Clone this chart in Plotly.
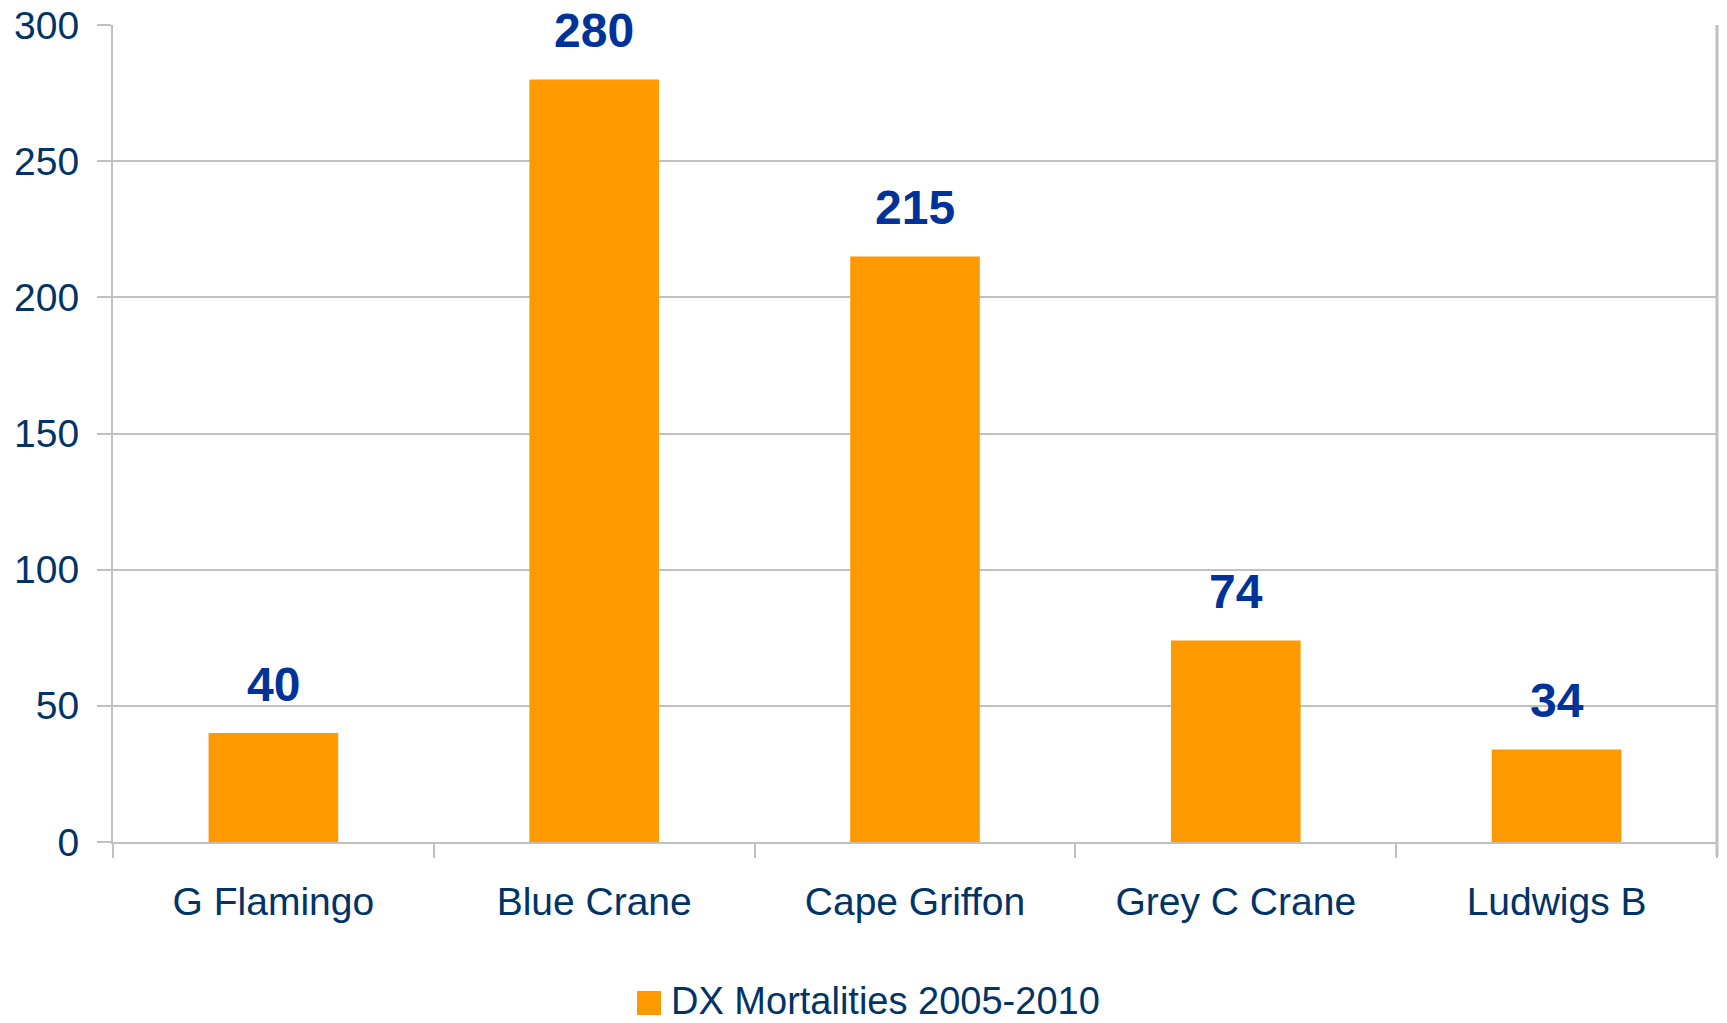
import plotly.graph_objects as go

categories = ["G Flamingo", "Blue Crane", "Cape Griffon", "Grey C Crane", "Ludwigs B"]
mortalities = [40, 280, 215, 74, 34]
series_name = "DX Mortalities 2005-2010"
y_ticks = [0, 50, 100, 150, 200, 250, 300]

# page body has an 8px default margin on every side; keep the figure inside
# the window so no scrollbars appear (screen = figure + OFF)
OFF = 8
W, H = 1727 - 2 * OFF, 1023 - 2 * OFF
ML, MT = 113 - OFF, 25 - OFF
MR = 2
MB = H - (842 - OFF)
PW = W - ML - MR
PH = H - MT - MB

AXIS_TEXT = "#003366"
LABEL_TEXT = "#003399"
ORANGE = "#FF9900"
GRID = "#C0C0C0"
FONT = "Arial, Liberation Sans, sans-serif"

fig = go.Figure()
fig.add_trace(go.Bar(
    x=categories, y=mortalities, name=series_name,
    marker=dict(color=ORANGE, line=dict(width=0)),
    showlegend=False, hoverinfo="x+y",
))

for c, v in zip(categories, mortalities):
    fig.add_annotation(
        x=c, y=v, text=f"<b>{v}</b>", showarrow=False,
        yanchor="bottom", yshift=20,
        font=dict(family=FONT, size=48, color=LABEL_TEXT),
    )

# custom legend (square + text); coordinates given in screen pixels
def px_x(p):
    return (p - OFF - ML) / PW

def px_y(p):
    return (MT + PH - (p - OFF)) / PH

fig.add_shape(type="rect", xref="paper", yref="paper",
              x0=px_x(637), x1=px_x(661), y0=px_y(1015), y1=px_y(991),
              fillcolor=ORANGE, line=dict(width=0))
fig.add_annotation(xref="paper", yref="paper", x=px_x(669), y=px_y(1001),
                   xanchor="left", yanchor="middle", showarrow=False,
                   text=series_name,
                   font=dict(family=FONT, size=38, color=AXIS_TEXT))

# right-hand frame line (extends down like a category tick)
fig.add_shape(type="line", xref="paper", yref="paper",
              x0=1, x1=1, y0=-14 / PH, y1=1,
              line=dict(color=GRID, width=3), layer="above")

fig.update_layout(
    width=W, height=H,
    margin=dict(l=ML, r=MR, t=MT, b=MB, pad=0, autoexpand=False),
    paper_bgcolor="white", plot_bgcolor="white",
    bargap=0.596,
    font=dict(family=FONT, color=AXIS_TEXT),
    showlegend=False,
)
fig.update_xaxes(
    type="category", automargin=False,
    showline=True, linecolor=GRID, linewidth=2,
    ticks="outside", tickson="boundaries", ticklen=14, tickcolor=GRID, tickwidth=2,
    showgrid=False,
    tickfont=dict(family=FONT, size=39, color=AXIS_TEXT),
    ticklabelstandoff=24,
)
fig.update_yaxes(
    range=[0, 300], tickvals=y_ticks, automargin=False,
    showline=True, linecolor=GRID, linewidth=2,
    ticks="outside", ticklen=14, tickcolor=GRID, tickwidth=2,
    showgrid=True, gridcolor=GRID, gridwidth=2,
    zeroline=False,
    tickfont=dict(family=FONT, size=39, color=AXIS_TEXT),
    ticklabelstandoff=10,
    ticklabeloverflow="allow",
)

fig.write_html("out.html")
